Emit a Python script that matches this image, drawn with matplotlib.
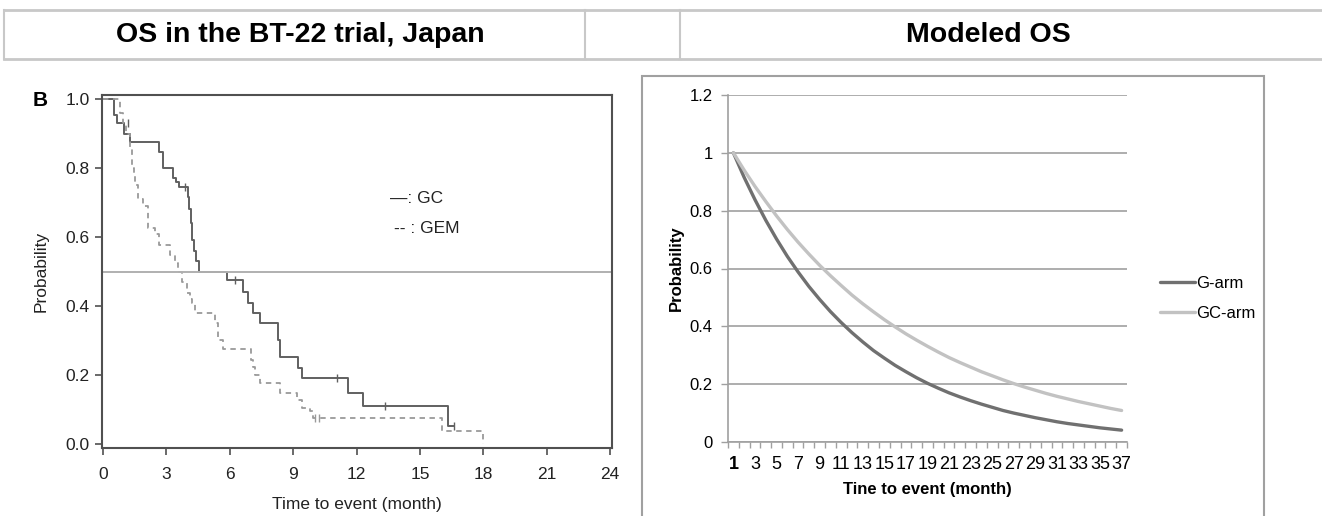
import matplotlib
matplotlib.use("Agg")
import matplotlib.pyplot as plt
from matplotlib.lines import Line2D
from matplotlib.patches import Rectangle

plt.rcParams['font.family'] = ['Liberation Sans', 'DejaVu Sans']

W, H = 1322, 516

# Kaplan-Meier curves (month, probability)
gc_t = [0, 0.52, 0.65, 1.0, 1.28, 2.66, 2.85, 3.3, 3.45, 3.6, 4.0, 4.08, 4.15, 4.22, 4.3, 4.42,
        4.56, 5.85, 6.64, 6.88, 7.1, 7.43, 8.3, 8.4, 9.24, 9.4, 11.6, 12.3, 16.34, 16.6]
gc_p = [1.0, 0.955, 0.93, 0.90, 0.876, 0.847, 0.80, 0.77, 0.76, 0.746, 0.717, 0.68, 0.64, 0.59, 0.56, 0.53,
        0.50, 0.475, 0.44, 0.41, 0.38, 0.35, 0.30, 0.253, 0.22, 0.19, 0.148, 0.11, 0.052, 0.052]
gc_cens_t = [1.17, 3.9, 6.25, 11.06, 13.35, 16.6]
gc_cens_p = [0.93, 0.746, 0.475, 0.19, 0.11, 0.052]

gem_t = [0, 0.8, 0.95, 1.1, 1.28, 1.36, 1.45, 1.52, 1.64, 1.91, 2.15, 2.46, 2.67, 3.17, 3.4, 3.57, 3.75,
         3.96, 4.1, 4.2, 4.35, 5.3, 5.46, 5.66, 6.99, 7.1, 7.2, 7.43, 8.38, 9.17, 9.4, 9.8, 9.95, 16.03, 18.0]
gem_p = [1.0, 0.96, 0.93, 0.90, 0.86, 0.80, 0.78, 0.75, 0.71, 0.69, 0.625, 0.61, 0.577, 0.548, 0.524, 0.50, 0.47,
         0.437, 0.42, 0.41, 0.379, 0.35, 0.30, 0.275, 0.243, 0.224, 0.20, 0.176, 0.149, 0.128, 0.103, 0.095, 0.074, 0.038, 0.0]
gem_cens_t = [10.05, 10.2]
gem_cens_p = [0.074, 0.074]

km_xticks = [0, 3, 6, 9, 12, 15, 18, 21, 24]
km_yticks = [0.0, 0.2, 0.4, 0.6, 0.8, 1.0]

# modeled OS, right panel (monthly categories 1..37)
months = list(range(1, 38))
g_arm = [1.0, 0.915, 0.838, 0.767, 0.702, 0.642, 0.588, 0.538, 0.493, 0.451, 0.413, 0.378, 0.346,
         0.316, 0.290, 0.265, 0.243, 0.222, 0.203, 0.186, 0.170, 0.156, 0.143, 0.131, 0.120, 0.109,
         0.100, 0.092, 0.084, 0.077, 0.070, 0.064, 0.059, 0.054, 0.049, 0.045, 0.041]
gc_arm = [1.0, 0.940, 0.884, 0.832, 0.782, 0.735, 0.691, 0.650, 0.611, 0.575, 0.541, 0.508, 0.478,
          0.450, 0.423, 0.398, 0.374, 0.352, 0.331, 0.311, 0.292, 0.275, 0.259, 0.243, 0.229, 0.215,
          0.202, 0.190, 0.179, 0.168, 0.158, 0.149, 0.140, 0.132, 0.124, 0.116, 0.109]
model_yticks = [0, 0.2, 0.4, 0.6, 0.8, 1, 1.2]


def fx(x):
    return x / W


def fy(y):
    return 1 - y / H


def box(x0, y0, x1, y1):
    return [fx(x0), fy(y1), fx(x1) - fx(x0), fy(y0) - fy(y1)]


fig = plt.figure(figsize=(W / 100, H / 100), dpi=100)

# header table
line_c = '#c8c8c8'
for y in (10, 59):
    fig.add_artist(Line2D([fx(4), fx(1322)], [fy(y), fy(y)], color=line_c, lw=2))
for x in (4, 585, 680):
    fig.add_artist(Line2D([fx(x), fx(x)], [fy(10), fy(59)], color=line_c, lw=1.5))
fig.text(fx(300), fy(35), 'OS in the BT-22 trial, Japan', ha='center', va='center',
         fontsize=20.5, fontweight='bold')
fig.text(fx(988), fy(35), 'Modeled OS', ha='center', va='center', fontsize=20.5, fontweight='bold')

# ---- left panel: Kaplan-Meier
ax = fig.add_axes(box(102, 95, 612, 448))
ax.step(gc_t, gc_p, where='post', color='#606060', lw=1.4)
ax.step(gem_t, gem_p, where='post', color='#9a9a9a', lw=1.3, dashes=(3, 2.5))
ax.plot(gc_cens_t, gc_cens_p, ls='none', marker='|', ms=6, color='#606060', mew=1)
ax.plot(gem_cens_t, gem_cens_p, ls='none', marker='|', ms=6, color='#9a9a9a', mew=1)
ax.axhline(0.5, color='#b0b0b0', lw=1.4)
ax.set_xlim(-0.047, 24.09)
ax.set_ylim(-0.0116, 1.0116)
ax.set_xticks(km_xticks)
ax.set_yticks(km_yticks)
ax.set_yticklabels(['%.1f' % v for v in km_yticks])
ax.tick_params(direction='out', length=5, width=1.2, colors='#505050', labelcolor='#222222',
               labelsize=12.5)
ax.tick_params(axis='x', pad=9)
ax.tick_params(axis='y', pad=4)
for s in ax.spines.values():
    s.set_color('#505050')
    s.set_linewidth(1.5)
ax.set_ylabel('Probability', fontsize=12.5, color='#222222', va='center')
ax.yaxis.set_label_coords(-0.12, 0.5)
ax.set_xlabel('Time to event (month)', fontsize=12.5, color='#222222', va='center')
ax.xaxis.set_label_coords(0.5, -0.161)
ax.text(13.6, 0.713, '\u2014: GC', fontsize=12.5, va='center', ha='left', color='#222222')
ax.text(13.76, 0.626, '-- : GEM', fontsize=12.5, va='center', ha='left', color='#222222')
fig.text(fx(40), fy(100), 'B', fontsize=15, fontweight='bold', ha='center', va='center')

# ---- right panel: chart area border
fig.add_artist(Rectangle((fx(642), fy(530)), fx(1264) - fx(642), fy(76) - fy(530),
                         fill=False, edgecolor='#a0a0a0', lw=1.5, clip_on=False))

ax2 = fig.add_axes(box(728, 95, 1127, 442))
ax2.plot(months, g_arm, color='#707070', lw=2.4, label='G-arm', solid_capstyle='round')
ax2.plot(months, gc_arm, color='#c2c2c2', lw=2.4, label='GC-arm', solid_capstyle='round')
ax2.set_xlim(0.5, 37.5)
ax2.set_ylim(0, 1.2)
ax2.set_yticks(model_yticks)
ax2.set_yticklabels(['0', '0.2', '0.4', '0.6', '0.8', '1', '1.2'])
ax2.yaxis.grid(True, color='#a0a0a0', lw=1.2)
ax2.set_axisbelow(True)
ax2.set_xticks(months[::2])
ax2.set_xticklabels([str(m) for m in months[::2]])
ax2.get_xticklabels()[0].set_fontweight('bold')
ax2.set_xticks([m + 0.5 for m in [0] + months], minor=True)
ax2.tick_params(axis='x', which='major', length=0, pad=10, labelsize=13)
ax2.tick_params(axis='x', which='minor', length=4, width=1, color='#a0a0a0')
ax2.tick_params(axis='y', length=5, width=1, color='#a0a0a0', labelsize=12, pad=6)
for k in ('top', 'right'):
    ax2.spines[k].set_visible(False)
for k in ('left', 'bottom'):
    ax2.spines[k].set_color('#a0a0a0')
    ax2.spines[k].set_linewidth(1.2)
ax2.set_ylabel('Probability', fontsize=12, fontweight='bold', va='center')
ax2.yaxis.set_label_coords(-0.13, 0.5)
ax2.set_xlabel('Tine to event (month)', fontsize=12, fontweight='bold', va='center')
ax2.xaxis.set_label_coords(0.5, -0.138)
ax2.legend(loc='center left', bbox_to_anchor=(fx(1152), fy(298)), bbox_transform=fig.transFigure,
           frameon=False, fontsize=12, handlelength=2.1, handletextpad=0.05, labelspacing=0.9,
           borderpad=0)

fig.savefig('out.png', dpi=100)
